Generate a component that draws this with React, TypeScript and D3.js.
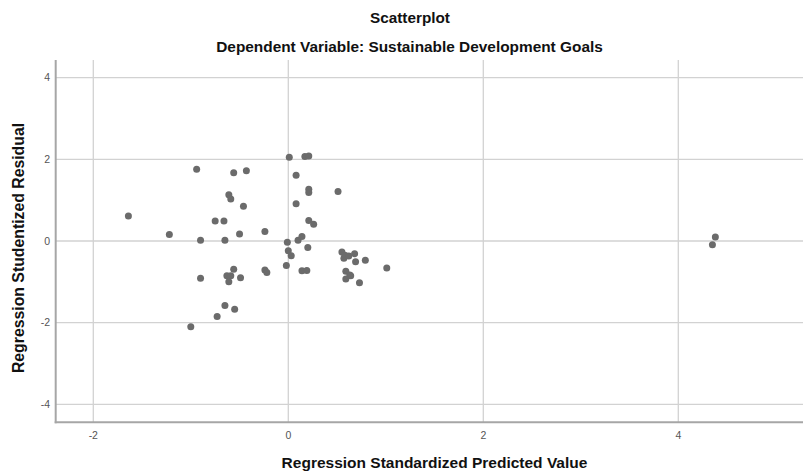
import React from "react";
import * as d3 from "d3";

const predicted: number[] = [
  -1.64, -1.22, -0.94, -0.90, -0.75, -0.66, -0.65, -0.56, -0.43, -0.61,
  -0.59, -0.46, -0.50, -0.24, 0.01, 0.08, 0.08, -0.01, 0.17, 0.21,
  0.21, 0.21, 0.51, 0.21, 0.26, 0.10, 0.14, 0.20, 0.00, 0.03,
  -0.02, 0.14, 0.19, -0.24, -0.22, -0.90, -0.56, -0.63, -0.59, -0.61,
  -0.49, -0.65, -0.55, -0.73, -1.00, 0.55, 0.58, 0.57, 0.62, 0.68,
  0.69, 0.79, 1.01, 0.59, 0.63, 0.59, 0.64, 0.73, 4.38, 4.35,
];
const residual: number[] = [
  0.61, 0.16, 1.76, 0.02, 0.49, 0.49, 0.02, 1.67, 1.72, 1.13,
  1.03, 0.85, 0.17, 0.23, 2.05, 1.61, 0.91, -0.03, 2.07, 2.08,
  1.27, 1.19, 1.21, 0.50, 0.41, 0.02, 0.11, -0.16, -0.24, -0.36,
  -0.60, -0.73, -0.72, -0.71, -0.77, -0.91, -0.69, -0.85, -0.85, -1.00,
  -0.90, -1.58, -1.67, -1.85, -2.10, -0.27, -0.35, -0.42, -0.37, -0.31,
  -0.51, -0.47, -0.66, -0.74, -0.83, -0.93, -0.85, -1.02, 0.10, -0.09,
];
const xTicks: number[] = [-2, 0, 2, 4];
const yTicks: number[] = [-4, -2, 0, 2, 4];

const title = "Scatterplot";
const subtitle = "Dependent Variable: Sustainable Development Goals";
const xTitle = "Regression Standardized Predicted Value";
const yTitle = "Regression Studentized Residual";

export default function App() {
  const W = 803;
  const H = 471;
  const left = 55.7;
  const right = 803;
  const top = 60;
  const bottom = 422.3;

  const x = d3.scaleLinear().domain([-2, 4]).range([93.3, 678.3]);
  const y = d3.scaleLinear().domain([-4, 4]).range([404.3, 77.7]);

  const font = "'Liberation Sans', Arial, sans-serif";

  return (
    <svg
      width={W}
      height={H}
      style={{ position: "absolute", left: 0, top: 0, background: "#fff" }}
    >
      <rect x={0} y={0} width={W} height={H} fill="#fff" />
      {xTicks.map((t) => (
        <line
          key={"gx" + t}
          x1={x(t)}
          x2={x(t)}
          y1={top}
          y2={bottom}
          stroke="#d2d2d2"
          strokeWidth={1.3}
        />
      ))}
      {yTicks.map((t) => (
        <line
          key={"gy" + t}
          x1={left}
          x2={right}
          y1={y(t)}
          y2={y(t)}
          stroke="#d2d2d2"
          strokeWidth={1.3}
        />
      ))}
      <line x1={left} x2={left} y1={top} y2={bottom + 1} stroke="#a6a6a6" strokeWidth={2} />
      <line x1={left - 1} x2={right} y1={bottom} y2={bottom} stroke="#a6a6a6" strokeWidth={2} />
      {xTicks.map((t) => (
        <text
          key={"tx" + t}
          x={x(t)}
          y={439}
          textAnchor="middle"
          fontFamily={font}
          fontSize={10.5}
          fill="#555"
        >
          {t}
        </text>
      ))}
      {yTicks.map((t) => (
        <text
          key={"ty" + t}
          x={50}
          y={y(t) + 3.5}
          textAnchor="end"
          fontFamily={font}
          fontSize={10.5}
          fill="#555"
        >
          {t}
        </text>
      ))}
      {predicted.map((v, i) => (
        <circle key={"p" + i} cx={x(v)} cy={y(residual[i])} r={3.5} fill="#6b6b6b" />
      ))}
      <text x={410} y={22.7} textAnchor="middle" fontFamily={font} fontWeight="bold" fontSize={15.3} fill="#111">
        {title}
      </text>
      <text x={409.5} y={52} textAnchor="middle" fontFamily={font} fontWeight="bold" fontSize={15.4} fill="#111">
        {subtitle}
      </text>
      <text x={434.5} y={468.3} textAnchor="middle" fontFamily={font} fontWeight="bold" fontSize={15.5} fill="#111">
        {xTitle}
      </text>
      <text
        transform={`translate(23.5,248) rotate(-90)`}
        textAnchor="middle"
        fontFamily={font}
        fontWeight="bold"
        fontSize={15.8}
        fill="#111"
      >
        {yTitle}
      </text>
    </svg>
  );
}
